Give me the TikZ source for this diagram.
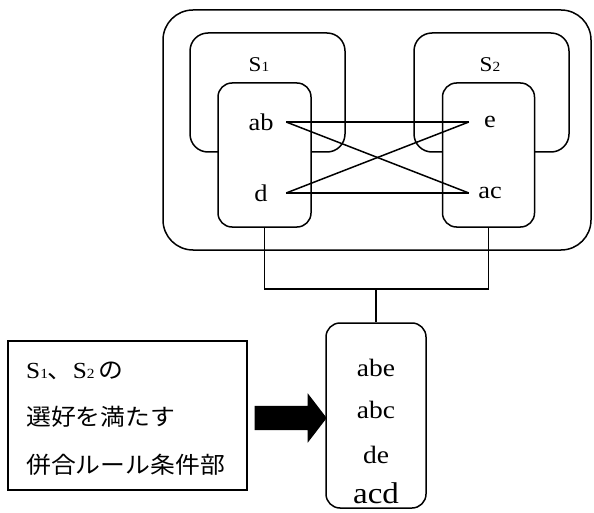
\documentclass[tikz,border=0pt]{standalone}
\usepackage{fontspec}
\setmainfont[FakeStretch=1.1]{Liberation Serif}
\newfontfamily\jpfont[FakeStretch=1.08]{Noto Sans CJK JP}
\usetikzlibrary{shapes.arrows}

\tikzstyle{outer-box}=[draw, line width=1.5pt, rounded corners=30pt]
\tikzstyle{group-box}=[draw, line width=1.5pt, rounded corners=18pt]
\tikzstyle{item-box}=[draw, line width=1.5pt, rounded corners=14pt, fill=white]
\tikzstyle{item}=[inner sep=0pt, minimum height=20pt, font=\fontsize{24pt}{28pt}\selectfont]
\tikzstyle{group-label}=[inner sep=0pt, font=\fontsize{21pt}{25pt}\selectfont]
\tikzstyle{cond-line}=[anchor=west, inner sep=0pt, font=\fontsize{23pt}{27pt}\selectfont\jpfont]
\tikzstyle{link}=[line width=1.5pt]
\newcommand{\subidx}[1]{{\fontsize{14pt}{14pt}\selectfont #1}}

\begin{document}
\begin{tikzpicture}
      \useasboundingbox (0pt, 0pt) rectangle (594pt, -513pt);

      \node (outer) at (377pt, -130pt)
            [outer-box, minimum width=428pt, minimum height=240pt] {};
      \node (s1) at (267.5pt, -92.5pt)
            [group-box, minimum width=155pt, minimum height=119pt] {};
      \node (s2) at (491.5pt, -92.5pt)
            [group-box, minimum width=155pt, minimum height=119pt] {};
      \node (lbox) at (264.5pt, -155pt)
            [item-box, minimum width=93pt, minimum height=144pt] {};
      \node (rbox) at (488.5pt, -155pt)
            [item-box, minimum width=92pt, minimum height=144pt] {};

      \node (s1:label) at (259pt, -65pt) [group-label] {S\subidx{1}};
      \node (s2:label) at (490pt, -65pt) [group-label] {S\subidx{2}};

      \node (ab) at (261pt, -122pt) [item, minimum width=50pt] {ab};
      \node (d) at (261pt, -193pt) [item, minimum width=50pt] {d};
      \node (e) at (490pt, -122pt) [item, minimum width=42pt] {e};
      \node (ac) at (490pt, -193pt) [item, minimum width=42pt] {ac};

      \draw[link] (ab.east) -- (e.west);
      \draw[link] (ab.east) -- (ac.west);
      \draw[link] (d.east) -- (e.west);
      \draw[link] (d.east) -- (ac.west);

      \node (res) at (376pt, -415.5pt)
            [item-box, minimum width=100pt, minimum height=185pt] {};
      \node (abe) at (376pt, -368pt) [item, font=\fontsize{25pt}{29pt}\selectfont] {abe};
      \node (abc) at (376pt, -410pt) [item, font=\fontsize{25pt}{29pt}\selectfont] {abc};
      \node (de) at (376pt, -455pt) [item, font=\fontsize{25pt}{29pt}\selectfont] {de};
      \node (acd) at (376pt, -493pt) [item, font=\fontsize{30pt}{34pt}\selectfont] {acd};

      \coordinate (joint) at (376pt, -289pt);
      \draw[link] (lbox.south) |- (joint) -| (rbox.south);
      \draw[link] (joint) -- (res.north);

      \node (cond) at (127.5pt, -415.5pt)
            [draw, line width=1.5pt, minimum width=239pt, minimum height=149pt] {};
      \node (cond:1) at (26pt, -371pt)
            [cond-line] {\rmfamily S\subidx{1}\jpfont 、\rmfamily S\subidx{2}\,\jpfont の};
      \node (cond:2) at (26pt, -417pt) [cond-line] {選好を満たす};
      \node (cond:3) at (26pt, -465pt) [cond-line] {併合ルール条件部};

      \node (arrow) at (286pt, -418pt)
            [single arrow, fill=black, inner sep=0pt, minimum height=72pt,
             single arrow head extend=12.5pt, single arrow tip angle=105] {\rule{0pt}{24pt}};
\end{tikzpicture}
\end{document}
